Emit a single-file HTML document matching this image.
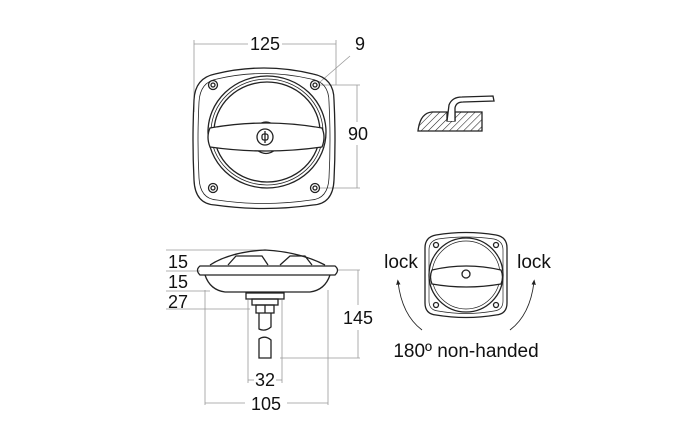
<!DOCTYPE html>
<html><head><meta charset="utf-8"><style>
html,body{margin:0;padding:0;background:#fff;}
svg{display:block;}
text{font-family:"Liberation Sans",sans-serif;fill:#111;}
</style></head><body>
<svg width="700" height="426" viewBox="0 0 700 426" xmlns="http://www.w3.org/2000/svg">
<defs>
<pattern id="h" width="5" height="5" patternUnits="userSpaceOnUse" patternTransform="rotate(45)">
<rect width="5" height="5" fill="#fff"/><line x1="0" y1="0" x2="0" y2="5" stroke="#222" stroke-width="1.1"/></pattern>
<marker id="ar" viewBox="0 0 10 10" refX="5" refY="5" markerWidth="6" markerHeight="6" orient="auto"><path d="M0,1 L10,5 L0,9 z" fill="#222"/></marker>
</defs>
<g stroke="#999" stroke-width="0.8" fill="none">
<line x1="194" y1="40" x2="194" y2="112"/><line x1="336" y1="40" x2="336" y2="85"/>
<line x1="194" y1="44" x2="248" y2="44"/><line x1="282" y1="44" x2="336" y2="44"/>
<line x1="350" y1="56" x2="320" y2="82"/>
<line x1="320" y1="85" x2="360" y2="85"/><line x1="320" y1="188" x2="360" y2="188"/>
<line x1="357" y1="85" x2="357" y2="122"/><line x1="357" y1="145" x2="357" y2="188"/>
<line x1="166" y1="250" x2="262" y2="250"/><line x1="166" y1="271" x2="200" y2="271"/>
<line x1="166" y1="291" x2="210" y2="291"/><line x1="166" y1="309" x2="250" y2="309"/>
<line x1="338" y1="270" x2="360" y2="270"/><line x1="280" y1="358" x2="360" y2="358"/>
<line x1="358" y1="270" x2="358" y2="305"/><line x1="358" y1="330" x2="358" y2="358"/>
<line x1="248" y1="300" x2="248" y2="383"/><line x1="282" y1="300" x2="282" y2="383"/>
<line x1="248" y1="380" x2="254" y2="380"/><line x1="276" y1="380" x2="282" y2="380"/>
<line x1="205" y1="290" x2="205" y2="405"/><line x1="328" y1="290" x2="328" y2="405"/>
<line x1="205" y1="403" x2="245" y2="403"/><line x1="287" y1="403" x2="328" y2="403"/>
</g>
<g font-size="18">
<text x="265" y="50" text-anchor="middle">125</text>
<text x="360" y="50" text-anchor="middle">9</text>
<text x="358" y="140" text-anchor="middle">90</text>
<text x="178" y="268" text-anchor="middle">15</text>
<text x="178" y="288" text-anchor="middle">15</text>
<text x="178" y="308" text-anchor="middle">27</text>
<text x="358" y="324" text-anchor="middle">145</text>
<text x="265" y="386" text-anchor="middle">32</text>
<text x="266" y="410" text-anchor="middle">105</text>
<text x="401" y="268" text-anchor="middle" font-size="19">lock</text>
<text x="534" y="268" text-anchor="middle" font-size="19">lock</text>
<text x="466" y="357" text-anchor="middle" font-size="19">180º non-handed</text>
</g>
<g stroke="#222" fill="none" stroke-width="1.3">
<path d="M215,74 Q264,62 313,74 Q334,78 334,100 Q336,140 334,180 Q333,204 313,205 Q264,212 215,205 Q195,204 194,180 Q192,140 194,100 Q195,78 215,74 Z"/>
<path d="M217,79 Q264,68 311,79 Q329,82 329,102 Q331,140 329,178 Q328,199 311,200 Q264,207 217,200 Q200,199 199,178 Q197,140 199,102 Q200,82 217,79 Z" stroke-width="0.8"/>
<ellipse cx="267" cy="132" rx="59" ry="56"/><ellipse cx="267" cy="132" rx="56" ry="53" stroke-width="0.8"/><ellipse cx="267" cy="132" rx="53" ry="50"/>
<circle cx="213" cy="85" r="4.5"/><circle cx="213" cy="85" r="2"/>
<circle cx="315" cy="85" r="4.5"/><circle cx="315" cy="85" r="2"/>
<circle cx="213" cy="188" r="4.5"/><circle cx="213" cy="188" r="2"/>
<circle cx="315" cy="188" r="4.5"/><circle cx="315" cy="188" r="2"/>
<path d="M257,126 Q266,118 275,126"/>
<path d="M257,150 Q266,157 275,150"/>
<path d="M210,128 Q266,118 322,128 Q326,137 322,147 Q266,155 210,147 Q206,137 210,128 Z" fill="#fff"/>
<circle cx="265" cy="137" r="8"/><line x1="265" y1="131" x2="265" y2="143"/><rect x="262" y="134" width="6" height="6" rx="2"/>
<path d="M210,265 Q230,252 265,250 Q300,252 325,265"/>
<path d="M228,265 L236,256 L262,256 L268,265 M280,265 L290,256 L305,256 L312,265"/>
<path d="M200,266 L335,266 Q340,270 335,275 L200,275 Q195,270 200,266 Z"/>
<path d="M205,275 Q210,290 225,292 L310,292 Q325,290 330,275"/>
<rect x="246" y="293" width="38" height="6"/>
<rect x="252" y="299" width="26" height="6"/>
<rect x="256" y="305" width="18" height="8"/>
<line x1="265" y1="305" x2="265" y2="313"/>
<path d="M259,313 L259,329 Q265,332 271,327 L271,313"/>
<path d="M259,358 L259,339 Q265,335 271,340 L271,358 Z"/>
<path d="M418,131 Q420,113 432,112 L447,112 L447,121 L455,121 L455,112 L482,112 L482,131 Z" fill="url(#h)"/>
<path d="M447,121 L449,105 Q452,97 462,97 L493,96 L494,101 L463,102 Q456,102 455,108 L455,121" fill="#fff"/>
<path d="M436,235 Q466,230 496,235 Q507,237 507,248 L507,303 Q507,314 496,315 Q466,320 436,315 Q425,314 425,303 L425,248 Q425,237 436,235 Z"/>
<path d="M438,239 Q466,235 494,239 Q503,241 503,250 L503,301 Q503,310 494,311 Q466,316 438,311 Q429,310 429,301 L429,250 Q429,241 438,239 Z" stroke-width="0.7"/>
<circle cx="466" cy="275" r="37"/><circle cx="466" cy="275" r="34" stroke-width="0.7"/>
<circle cx="436" cy="245" r="2.5"/><circle cx="496" cy="245" r="2.5"/>
<circle cx="436" cy="305" r="2.5"/><circle cx="496" cy="305" r="2.5"/>
<path d="M432,270 Q466,262 501,270 Q504,277 501,284 Q466,290 432,284 Q429,277 432,270 Z" fill="#fff"/>
<circle cx="466" cy="274" r="4"/>
<path d="M422,330 Q402,315 398,282" stroke-width="0.9" marker-end="url(#ar)"/>
<path d="M510,330 Q530,315 534,282" stroke-width="0.9" marker-end="url(#ar)"/>
</g>
</svg>
</body></html>
